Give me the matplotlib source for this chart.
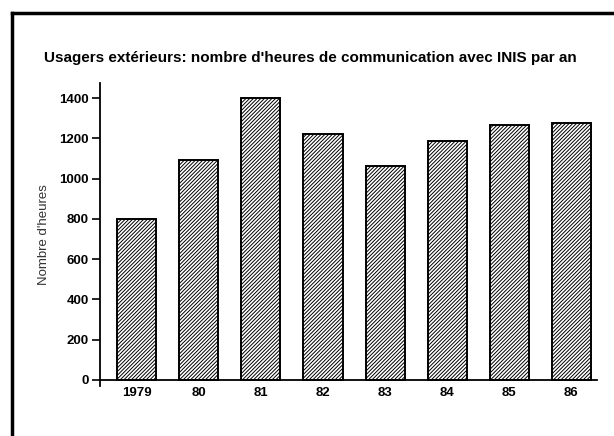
import matplotlib.pyplot as plt
from matplotlib.lines import Line2D

# data
years = ['1979', '80', '81', '82', '83', '84', '85', '86']
heures = [800, 1090, 1400, 1220, 1065, 1185, 1265, 1275]
yticks = [0, 200, 400, 600, 800, 1000, 1200, 1400]

plt.rcParams['font.family'] = ['Liberation Sans', 'DejaVu Sans']
plt.rcParams['hatch.linewidth'] = 0.7

fig = plt.figure(figsize=(6.14, 4.36), dpi=100)
ax = fig.add_axes([0.163, 0.1147, 0.809, 0.695])

x = list(range(len(years)))
ax.bar(x, heures, width=0.63, color='white', edgecolor='black',
       linewidth=1.4, hatch='/' * 9, zorder=2)

ax.set_xlim(-0.59, 7.41)
ax.set_ylim(-30, 1475)
ax.spines['top'].set_visible(False)
ax.spines['right'].set_visible(False)
ax.spines['bottom'].set_position(('data', 0))
ax.spines['bottom'].set_linewidth(1.3)
ax.spines['left'].set_linewidth(1.3)

ax.set_yticks(yticks)
ax.set_yticklabels([str(v) for v in yticks], fontsize=9.5, fontweight='bold')
ax.tick_params(axis='y', length=6, width=1.2, pad=2)
ax.set_xticks(x)
ax.set_xticklabels(years, fontsize=9.5, fontweight='bold')
ax.tick_params(axis='x', length=0, pad=5)

ax.set_ylabel("Nombre d'heures", fontsize=9.5, color='#333333', labelpad=7)

fig.text(0.505, 0.868, "Usagers extérieurs: nombre d'heures de communication avec INIS par an",
         ha='center', va='center', fontsize=11, fontweight='bold')

# outer frame (left and top)
fig.add_artist(Line2D([0.02, 0.02], [0.0, 0.97], transform=fig.transFigure,
                      color='black', linewidth=2.5))
fig.add_artist(Line2D([0.02, 1.0], [0.97, 0.97], transform=fig.transFigure,
                      color='black', linewidth=2.5))

fig.savefig('out.png', dpi=100)
